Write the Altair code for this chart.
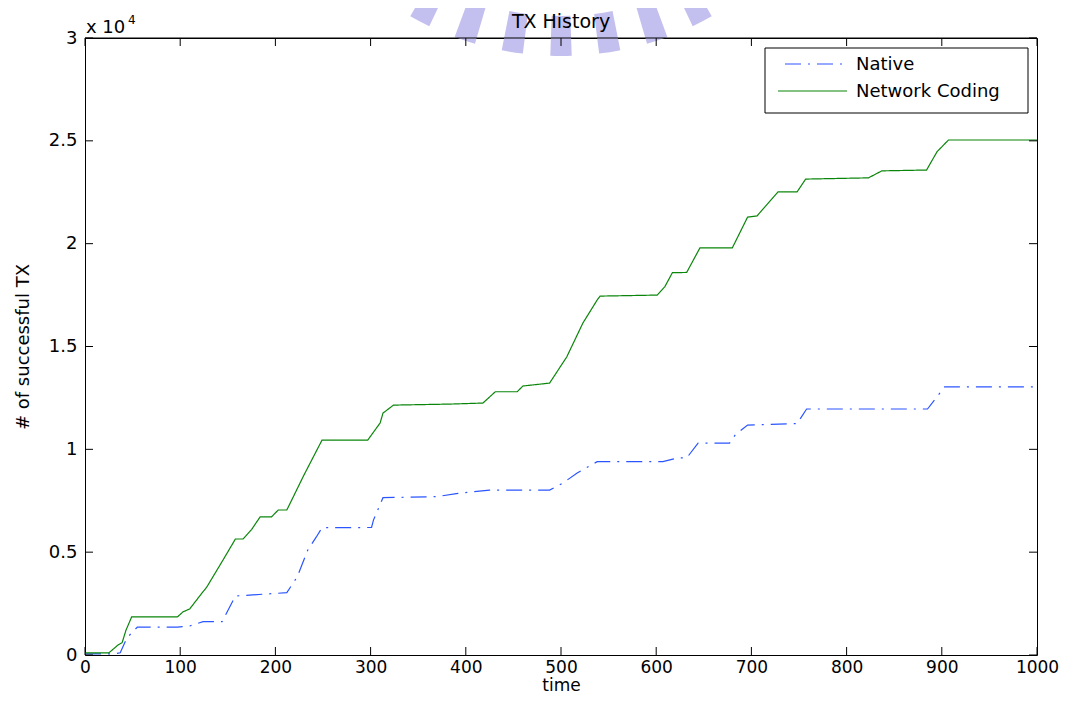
import altair as alt
import pandas as pd

# ---- data ----
nc_time = [0, 25, 30, 35, 39, 43, 49, 97, 103, 110, 121, 128, 145, 158, 166, 175, 184, 196, 203, 212,
           230, 249, 297, 310, 313, 324, 383, 418, 431, 454, 460, 488, 506, 523, 538, 541, 601, 609,
           617, 632, 646, 680, 696, 706, 728, 748, 757, 823, 837, 884, 895, 907, 1000]
nc_val = [100, 100, 300, 500, 600, 1200, 1850, 1850, 2100, 2240, 2900, 3310, 4620, 5640, 5640, 6100,
          6720, 6720, 7050, 7050, 8750, 10450, 10450, 11280, 11760, 12150, 12200, 12250, 12800, 12800,
          13080, 13220, 14490, 16140, 17260, 17450, 17500, 17900, 18590, 18600, 19800, 19800, 21290,
          21350, 22520, 22520, 23140, 23200, 23540, 23580, 24470, 25040, 25040]

nat_time = [0, 30, 37, 44, 55, 97, 110, 124, 144, 158, 212, 223, 234, 243, 249, 301, 303, 313, 370,
            390, 425, 488, 502, 517, 538, 607, 622, 632, 644, 677, 683, 696, 748, 758, 885, 903, 1000]
nat_val = [50, 50, 110, 830, 1360, 1360, 1410, 1620, 1620, 2870, 3030, 3810, 5100, 5740, 6190, 6200,
           6560, 7650, 7700, 7850, 8020, 8020, 8360, 8850, 9400, 9400, 9580, 9580, 10300, 10300, 10700,
           11180, 11250, 11960, 11960, 13040, 13040]

series_names = ["Native", "Network Coding"]
x_ticks = list(range(0, 1001, 100))
y_ticks = list(range(0, 30001, 5000))
title_text = "TX History"

# decorative watermark spokes (angles in radians, measured clockwise from up)
spoke_centers = [-0.64, -0.48, -0.32, -0.16, 0.0, 0.16, 0.32, 0.48, 0.64]

# ---- build tables ----
df = pd.concat([
    pd.DataFrame({"time": nat_time, "tx": nat_val, "series": series_names[0]}),
    pd.DataFrame({"time": nc_time, "tx": nc_val, "series": series_names[1]}),
], ignore_index=True)

xt_df = pd.DataFrame({"time": x_ticks})
yt_df = pd.DataFrame({"tx": y_ticks})
one = pd.DataFrame({"a": [0]})
wm_df = pd.DataFrame({"t0": [3.14159 + c - 0.035 for c in spoke_centers],
                      "t1": [3.14159 + c + 0.035 for c in spoke_centers]})

FONT = "DejaVu Sans"
BLUE = "#2a55ff"
GREEN = "#0a860a"
W, H = 952, 617

xs = alt.Scale(domain=[0, 1000], nice=False, zero=False)
ys = alt.Scale(domain=[0, 30000], nice=False, zero=False)

x_axis = alt.Axis(values=x_ticks, format="d", grid=False, domain=False, ticks=False, labelFont=FONT,
                  labelFontSize=17, labelColor="black", labelPadding=4, labelFlush=False,
                  title="time", titleFont=FONT, titleFontSize=17, titleFontWeight="normal",
                  titleColor="black", titlePadding=2)
y_axis = alt.Axis(values=y_ticks, grid=False, domain=False, ticks=False, labelFont=FONT,
                  labelFontSize=18, labelColor="black", labelPadding=8, labelFlush=False,
                  labelExpr="format(datum.value / 10000, '~g')",
                  title="# of successful TX", titleFont=FONT, titleFontSize=18,
                  titleFontWeight="normal", titleColor="black", titlePadding=16)

watermark = alt.Chart(wm_df).mark_arc(innerRadius=266, outerRadius=306, color="#c3bfee").encode(
    theta=alt.Theta("t0:Q", scale=None),
    theta2="t1:Q",
    x=alt.value(476),
    y=alt.value(-288),
)
top_border = alt.Chart(one).mark_rule(color="black", strokeWidth=1).encode(
    x=alt.value(0), x2=alt.value(W), y=alt.value(0))

lines = alt.Chart(df).mark_line(strokeWidth=1.2, clip=True).encode(
    x=alt.X("time:Q", scale=xs, axis=x_axis),
    y=alt.Y("tx:Q", scale=ys, axis=y_axis),
    color=alt.Color("series:N", scale=alt.Scale(domain=series_names, range=[BLUE, GREEN]), legend=None),
    strokeDash=alt.StrokeDash("series:N", scale=alt.Scale(domain=series_names,
                                                          range=[[16, 7, 2, 7], [1, 0]]), legend=None),
)

tick_b = alt.Chart(xt_df).mark_rule(color="black", strokeWidth=1).encode(
    x=alt.X("time:Q", scale=xs), y=alt.value(H), y2=alt.value(H - 8))
tick_t = alt.Chart(xt_df).mark_rule(color="black", strokeWidth=1).encode(
    x=alt.X("time:Q", scale=xs), y=alt.value(0), y2=alt.value(8))
tick_l = alt.Chart(yt_df).mark_rule(color="black", strokeWidth=1).encode(
    y=alt.Y("tx:Q", scale=ys), x=alt.value(0), x2=alt.value(8))
tick_r = alt.Chart(yt_df).mark_rule(color="black", strokeWidth=1).encode(
    y=alt.Y("tx:Q", scale=ys), x=alt.value(W), x2=alt.value(W - 8))

title_mark = alt.Chart(one).mark_text(text=title_text, align="center", baseline="alphabetic", font=FONT,
                                      fontSize=19, color="black").encode(x=alt.value(W / 2), y=alt.value(-10))
exp_base = alt.Chart(one).mark_text(text="x 10", align="left", baseline="alphabetic", font=FONT,
                                    fontSize=18, color="black").encode(x=alt.value(1), y=alt.value(-5))
exp_sup = alt.Chart(one).mark_text(text="4", align="left", baseline="alphabetic", font=FONT,
                                   fontSize=12, color="black").encode(x=alt.value(43), y=alt.value(-14))

leg_box = alt.Chart(one).mark_rect(fill="white", stroke="black", strokeWidth=1).encode(
    x=alt.value(680), x2=alt.value(943), y=alt.value(10), y2=alt.value(75))
leg_l1 = alt.Chart(one).mark_rule(color=BLUE, strokeWidth=1.2, strokeDash=[16, 7, 2, 7],
                                  strokeDashOffset=25).encode(
    x=alt.value(693), x2=alt.value(762), y=alt.value(26))
leg_l2 = alt.Chart(one).mark_rule(color=GREEN, strokeWidth=1.2).encode(
    x=alt.value(693), x2=alt.value(762), y=alt.value(53))
leg_t1 = alt.Chart(one).mark_text(text=series_names[0], align="left", baseline="middle", font=FONT,
                                  fontSize=18, color="black").encode(x=alt.value(771), y=alt.value(27))
leg_t2 = alt.Chart(one).mark_text(text=series_names[1], align="left", baseline="middle", font=FONT,
                                  fontSize=18, color="black").encode(x=alt.value(771), y=alt.value(54))

chart = alt.layer(
    watermark, top_border, lines, tick_b, tick_t, tick_l, tick_r, title_mark, exp_base, exp_sup,
    leg_box, leg_l1, leg_l2, leg_t1, leg_t2,
).properties(
    width=W, height=H,
    autosize=alt.AutoSizeParams(type="none"),
    padding={"left": 77, "top": 30, "right": 24, "bottom": 41},
    background="white",
).configure_view(stroke="black", strokeWidth=1)

chart.save("out.html", embed_options={"renderer": "svg", "actions": False})
